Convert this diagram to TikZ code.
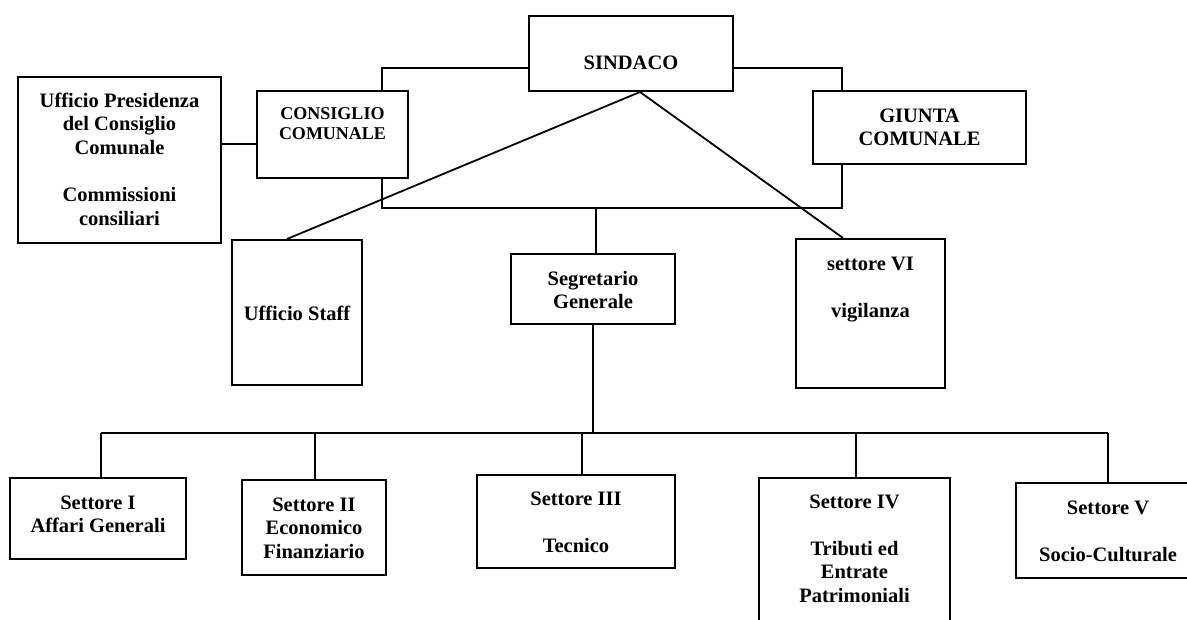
\documentclass[tikz,border=0pt]{standalone}
\usepackage{fontspec}
\setmainfont{Liberation Serif}
\tikzset{
  box/.style={draw, line width=2pt, fill=white, inner sep=0pt, anchor=north west},
  link/.style={line width=1.8pt},
  small/.style={font=\bfseries\fontsize{18}{20.5}\selectfont},
}
\newcommand{\boxtext}[4]{\parbox[c][#2][t]{#1}{\centering\vspace*{#3}\strut #4\par}}

\begin{document}
\begin{tikzpicture}[x=1pt, y=-1pt, font=\bfseries\fontsize{20.5}{23.6}\selectfont]
	%%%%% START %%%%%
	\clip (0,0) rectangle (1187,619);

	% top level
	\node[box] (sindaco) at (528,15) {\boxtext{204pt}{75pt}{36.5pt}{SINDACO}};
	\node[box] (ufficio) at (17,76) {\boxtext{203pt}{166pt}{13.5pt}{Ufficio Presidenza\\del Consiglio\\Comunale\\[23.6pt]Commissioni\\consiliari}};
	\node[box, small] (consiglio) at (256,90) {\boxtext{151pt}{87pt}{13.7pt}{CONSIGLIO\\COMUNALE}};
	\node[box] (giunta) at (812,90) {\boxtext{213pt}{73pt}{14.5pt}{GIUNTA\\COMUNALE}};

	% middle level
	\node[box] (staff) at (231,239) {\boxtext{130pt}{145pt}{63.5pt}{Ufficio Staff}};
	\node[box] (segretario) at (510,253) {\boxtext{164pt}{70pt}{14.5pt}{Segretario\\Generale}};
	\node[box] (vigilanza) at (795,238) {\boxtext{149pt}{149pt}{14.5pt}{settore VI\\[23.6pt]vigilanza}};

	% settori
	\node[box] (settoreI) at (9,477) {\boxtext{176pt}{81pt}{14.5pt}{Settore I\\Affari Generali}};
	\node[box] (settoreII) at (241,479) {\boxtext{144pt}{95pt}{14.5pt}{Settore II\\Economico\\Finanziario}};
	\node[box] (settoreIII) at (476,474) {\boxtext{198pt}{93pt}{13.5pt}{Settore III\\[23.6pt]Tecnico}};
	\node[box] (settoreIV) at (758,477) {\boxtext{191pt}{160pt}{13.5pt}{Settore IV\\[23.6pt]Tributi ed\\Entrate\\Patrimoniali}};
	\node[box] (settoreV) at (1015,482) {\boxtext{184pt}{95pt}{14.5pt}{Settore V\\[23.6pt]Socio-Culturale}};

	% loop round the councils
	\coordinate (lt) at (382,68);
	\coordinate (lb) at (382,208);
	\coordinate (rt) at (842,68);
	\coordinate (rb) at (842,208);
	\draw[link] (sindaco.west |- lt) -- (lt) -- (lt |- consiglio.north);
	\draw[link] (lt |- consiglio.south) -- (lb) -- (rb) -- (rb |- giunta.south);
	\draw[link] (sindaco.east |- rt) -- (rt) -- (rt |- giunta.north);
	\draw[link] (ufficio.east |- 0,144) -- (consiglio.west |- 0,144);

	\coordinate (sg) at (596,208);
	\draw[link] (sg) -- (sg |- segretario.north);

	\draw[link] ([xshift=9pt]sindaco.south) -- ([xshift=-10pt]staff.north);
	\draw[link] ([xshift=9pt]sindaco.south) -- ([xshift=-27.5pt]vigilanza.north);

	% bus to the settori
	\coordinate (busl) at (101,433);
	\coordinate (busr) at (1108,433);
	\draw[link] (segretario.south) -- (segretario.south |- busl);
	\draw[link] (busl) -- (busr);
	\foreach \n/\x in {settoreI/101, settoreII/315, settoreIII/582, settoreIV/856, settoreV/1108}
		\draw[link] (\x,433) -- (\x,433 |- \n.north);

	%%%%% END %%%%%
\end{tikzpicture}
\end{document}
